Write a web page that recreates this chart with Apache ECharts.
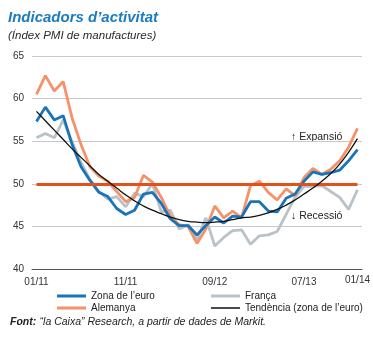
<!DOCTYPE html>
<html>
<head>
<meta charset="utf-8">
<script src="https://cdn.jsdelivr.net/npm/echarts@6/dist/echarts.min.js"></script>
<style>
html,body{margin:0;padding:0;background:#fff;}
#c{width:373px;height:338px;}
</style>
</head>
<body>
<div id="c"></div>
<script>
const months = ['01/11','02/11','03/11','04/11','05/11','06/11','07/11','08/11','09/11','10/11','11/11','12/11',
  '01/12','02/12','03/12','04/12','05/12','06/12','07/12','08/12','09/12','10/12','11/12','12/12',
  '01/13','02/13','03/13','04/13','05/13','06/13','07/13','08/13','09/13','10/13','11/13','12/13','01/14'];
const labelIdx = [0, 10, 20, 30, 36];
const yTicks = [40, 45, 50, 55, 60, 65];

const euro = [57.3,59.0,57.5,58.0,54.6,52.0,50.4,49.0,48.5,47.1,46.4,46.9,
  48.8,49.0,47.7,45.9,45.1,45.1,44.0,45.1,46.1,45.4,46.2,46.1,
  47.9,47.9,46.8,46.7,48.3,48.8,50.3,51.4,51.1,51.3,51.6,52.7,54.0];
const germany = [60.5,62.7,60.9,62.0,57.7,54.6,52.0,50.9,50.3,49.1,47.9,48.4,
  51.0,50.2,48.4,46.2,45.2,45.0,43.0,44.7,47.4,46.0,46.8,46.0,
  49.8,50.3,49.0,48.1,49.4,48.6,50.7,51.8,51.1,51.7,52.7,54.3,56.5];
const france = [55.4,55.9,55.4,57.5,54.9,52.5,50.5,49.1,48.2,48.5,47.3,48.9,
  48.5,50.0,46.7,46.9,44.7,45.2,43.4,46.0,42.7,43.7,44.5,44.6,
  42.9,43.9,44.0,44.4,46.4,48.4,49.7,49.7,49.8,49.1,48.4,47.0,49.3];
const trend = [58.5,57.4,56.3,55.2,54.1,53.1,52.1,51.1,50.3,49.5,48.7,48.0,
  47.4,46.9,46.5,46.1,45.8,45.6,45.5,45.45,45.5,45.6,45.8,46.0,
  46.1,46.3,46.6,47.0,47.5,48.1,48.8,49.5,50.3,51.2,52.3,53.7,55.3];
const threshold = 50;

const names = {euro:"Zona de l’euro", fr:"França", de:"Alemanya", tr:"Tendència (zona de l’euro)"};
const FONT = "'Liberation Sans', Arial, sans-serif";

const chart = echarts.init(document.getElementById('c'), null, {renderer:'canvas'});

function legendItem(name, left, top, h){
  return {
    data:[name], left:left, top:top, icon:'rect', itemWidth:29, itemHeight:h,
    itemGap:4, padding:0, selectedMode:false,
    textStyle:{fontSize:10, color:'#222', fontFamily:FONT}
  };
}

chart.setOption({
  animation:false,
  backgroundColor:'#fff',
  title:{
    text:'Indicadors d’activitat', left:8, top:10, padding:0, itemGap:5,
    textStyle:{fontSize:15, fontStyle:'italic', fontWeight:'bold', color:'#1b7cc3', fontFamily:FONT},
    subtext:'(Índex PMI de manufactures)',
    subtextStyle:{fontSize:11.5, fontStyle:'italic', color:'#2a2a2a', fontFamily:FONT}
  },
  legend:[
    legendItem(names.euro, 57, 291, 3),
    legendItem(names.fr, 211, 291, 3),
    legendItem(names.de, 57, 303, 3),
    legendItem(names.tr, 211, 303, 1.5)
  ],
  grid:{left:32, right:11, top:56, bottom:69},
  xAxis:{
    type:'category', data:months, boundaryGap:true,
    axisLine:{lineStyle:{color:'#555', width:1}},
    axisTick:{length:4, lineStyle:{color:'#555'}, interval:(i)=>labelIdx.slice(0,4).includes(i)},
    axisLabel:{
      interval:(i)=>labelIdx.includes(i), margin:6, fontSize:10, color:'#333', fontFamily:FONT,
      formatter:(v,i)=> i===labelIdx[4] ? '{up|'+v+'}\n{gap|}' : '{n|'+v+'}',
      rich:{
        up:{fontSize:10, color:'#333', fontFamily:FONT, lineHeight:10},
        gap:{fontSize:4, lineHeight:4},
        n:{fontSize:10, color:'#333', fontFamily:FONT, lineHeight:14, padding:[0,0,0,0]}
      }
    },
    splitLine:{show:false}
  },
  yAxis:{
    type:'value', min:yTicks[0], max:yTicks[yTicks.length-1], interval:5,
    axisLine:{show:false}, axisTick:{show:false},
    axisLabel:{margin:8, fontSize:10, color:'#333', fontFamily:FONT},
    splitLine:{lineStyle:{color:'#c8c8c8', width:1}, showMinLine:false}
  },
  series:[
    {name:names.fr, type:'line', data:france, symbol:'none', lineStyle:{width:2.8, color:'#b8c2c7'}, itemStyle:{color:'#b8c2c7'}, z:2},
    {name:names.de, type:'line', data:germany, symbol:'none', lineStyle:{width:2.8, color:'#f5926a'}, itemStyle:{color:'#f5926a'}, z:3},
    {name:names.euro, type:'line', data:euro, symbol:'none', lineStyle:{width:2.8, color:'#1a74ba'}, itemStyle:{color:'#1a74ba'}, z:4,
      markLine:{silent:true, symbol:'none', label:{show:false}, lineStyle:{color:'#e4501c', width:3, type:'solid'},
        data:[[{coord:[0, threshold]},{coord:[months.length-1, threshold]}]]}},
    {name:names.tr, type:'line', data:trend, symbol:'none', smooth:true, lineStyle:{width:1.3, color:'#111'}, itemStyle:{color:'#111'}, z:6}
  ],
  graphic:[
    {type:'text', left:291, top:132, style:{text:'↑ Expansió', fontSize:10.5, fill:'#222', fontFamily:FONT}},
    {type:'text', left:291, top:211, style:{text:'↓ Recessió', fontSize:10.5, fill:'#222', fontFamily:FONT}},
    {type:'text', left:10, top:316, style:{
      text:'{b|Font:} {i|“la Caixa” Research, a partir de dades de Markit.}',
      rich:{
        b:{fontSize:10.5, fontStyle:'italic', fontWeight:'bold', fill:'#222', fontFamily:FONT},
        i:{fontSize:10.5, fontStyle:'italic', fill:'#222', fontFamily:FONT}
      }}}
  ]
});
</script>
</body>
</html>
